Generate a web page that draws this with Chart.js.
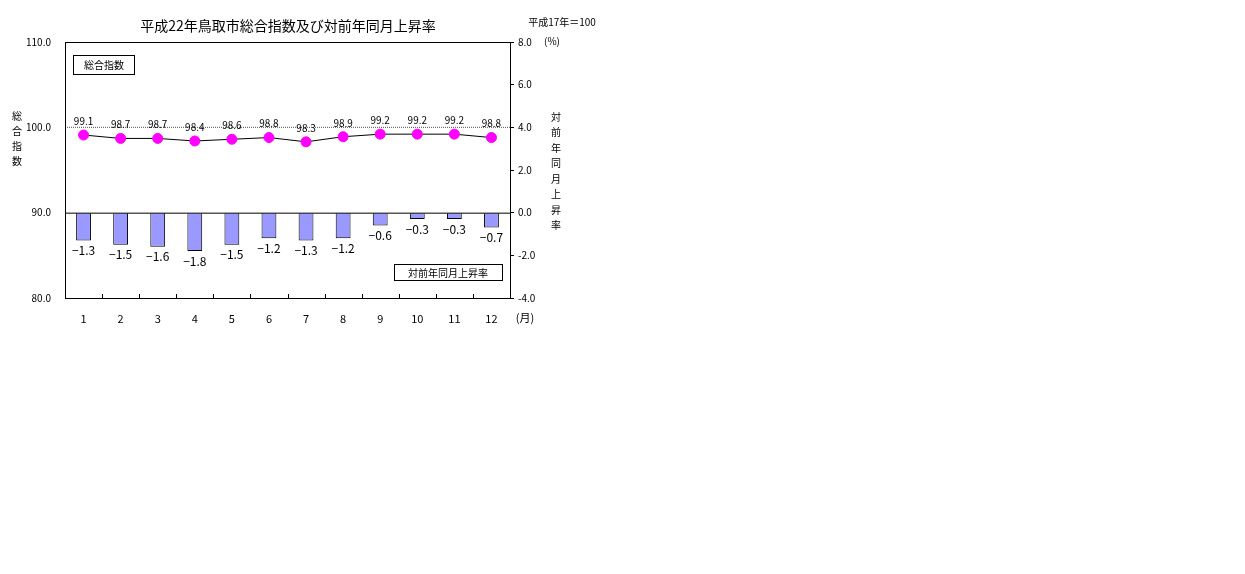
<!DOCTYPE html>
<html><head><meta charset="utf-8">
<script src="https://cdn.jsdelivr.net/npm/chart.js@4/dist/chart.umd.min.js"></script>
<style>body{margin:0;background:#fff}#wrap{position:absolute;left:0;top:0;width:600px;height:330px}</style>
</head><body><div id="wrap"><canvas id="c" width="600" height="330"></canvas></div>
<script>
const months = ['1','2','3','4','5','6','7','8','9','10','11','12'];
const indexValues = [99.1, 98.7, 98.7, 98.4, 98.6, 98.8, 98.3, 98.9, 99.2, 99.2, 99.2, 98.8];
const rateValues = [-1.3, -1.5, -1.6, -1.8, -1.5, -1.2, -1.3, -1.2, -0.6, -0.3, -0.3, -0.7];
const leftTicks = [80, 90, 100, 110];
const rightTicks = [-4, -2, 0, 2, 4, 6, 8];

const F = '"Noto Sans CJK JP", sans-serif';

const deco = {
  id: 'deco',
  afterDatasetsDraw(chart) {
    const ctx = chart.ctx, a = chart.chartArea;
    const yL = chart.scales.yL, yR = chart.scales.yR;
    ctx.save();
    // dotted 100 line
    ctx.strokeStyle = '#555'; ctx.lineWidth = 1; ctx.setLineDash([1, 1]);
    ctx.beginPath(); ctx.moveTo(a.left, yL.getPixelForValue(100)); ctx.lineTo(a.right, yL.getPixelForValue(100)); ctx.stroke();
    ctx.setLineDash([]);
    // zero line
    ctx.strokeStyle = '#000';
    ctx.beginPath(); ctx.moveTo(a.left, yR.getPixelForValue(0) + 0.5); ctx.lineTo(a.right, yR.getPixelForValue(0) + 0.5); ctx.stroke();
    // frame
    ctx.strokeRect(a.left + 0.5, a.top + 0.5, a.width, a.height);
    // bottom tick marks between categories
    const xs = chart.scales.x;
    for (let i = 1; i < months.length; i++) {
      const x = Math.round((xs.getPixelForValue(i - 1) + xs.getPixelForValue(i)) / 2) + 0.5;
      ctx.beginPath(); ctx.moveTo(x, a.bottom); ctx.lineTo(x, a.bottom - 4); ctx.stroke();
    }
    // labels
    ctx.fillStyle = '#000'; ctx.textAlign = 'center';
    ctx.font = '10px ' + F; ctx.textBaseline = 'bottom';
    chart.getDatasetMeta(1).data.forEach((p, i) => {
      ctx.fillText(indexValues[i].toFixed(1), p.x, p.y - 9);
    });
    ctx.font = '12px ' + F; ctx.textBaseline = 'top';
    chart.getDatasetMeta(0).data.forEach((b, i) => {
      ctx.fillText(rateValues[i].toFixed(1).replace('-', '−'), b.x, b.y + 4);
    });
    // title & notes
    ctx.font = '14px ' + F; ctx.textBaseline = 'middle';
    ctx.fillText('平成22年鳥取市総合指数及び対前年同月上昇率', 288, 26);
    ctx.font = '10px ' + F;
    ctx.fillText('平成17年＝100', 562, 22);
    ctx.fillText('(%)', 552, 41);
    ctx.font = '11px ' + F;
    ctx.fillText('(月)', 525, 318);
    // boxes
    ctx.font = '10px ' + F;
    ctx.strokeRect(73.5, 55.5, 61, 19); ctx.fillText('総合指数', 104, 65);
    ctx.strokeRect(394.5, 264.5, 108, 16); ctx.fillText('対前年同月上昇率', 448, 273);
    // vertical axis titles
    ctx.font = '10px ' + F;
    '総合指数'.split('').forEach((c, i) => ctx.fillText(c, 17, 116 + i * 15));
    '対前年同月上昇率'.split('').forEach((c, i) => ctx.fillText(c, 556, 117 + i * 15.5));
    ctx.restore();
  }
};

new Chart(document.getElementById('c'), {
  data: {
    labels: months,
    datasets: [
      { type: 'bar', data: rateValues, yAxisID: 'yR', backgroundColor: '#9999ff', borderColor: '#000', borderWidth: 1, barPercentage: 0.4, categoryPercentage: 1, order: 2 },
      { type: 'line', data: indexValues, yAxisID: 'yL', borderColor: '#000', borderWidth: 1, pointBackgroundColor: '#ff00ff', pointBorderColor: '#ff00ff', pointRadius: 5, order: 1 }
    ]
  },
  options: {
    responsive: false, animation: false,
    layout: { padding: { top: 42, bottom: 0, left: 0, right: 0 } },
    plugins: { legend: { display: false }, tooltip: { enabled: false } },
    scales: {
      x: { offset: true, grid: { display: false }, border: { display: false },
        ticks: { color: '#000', font: { family: F, size: 11 }, padding: 6 },
        afterFit(s) { s.height = 32; } },
      yL: { position: 'left', min: 80, max: 110, grid: { display: false }, border: { display: false },
        afterBuildTicks(s) { s.ticks = leftTicks.map(v => ({ value: v })); },
        ticks: { color: '#000', font: { family: F, size: 10 }, callback: v => v.toFixed(1), padding: 6 },
        afterFit(s) { s.width = 65; } },
      yR: { position: 'right', min: -4, max: 8, grid: { drawOnChartArea: false, tickLength: 4, color: '#000' }, border: { display: false },
        afterBuildTicks(s) { s.ticks = rightTicks.map(v => ({ value: v })); },
        ticks: { color: '#000', font: { family: F, size: 10 }, callback: v => v.toFixed(1), padding: 4 },
        afterFit(s) { s.width = 90; } }
    }
  },
  plugins: [deco]
});
</script></body></html>
